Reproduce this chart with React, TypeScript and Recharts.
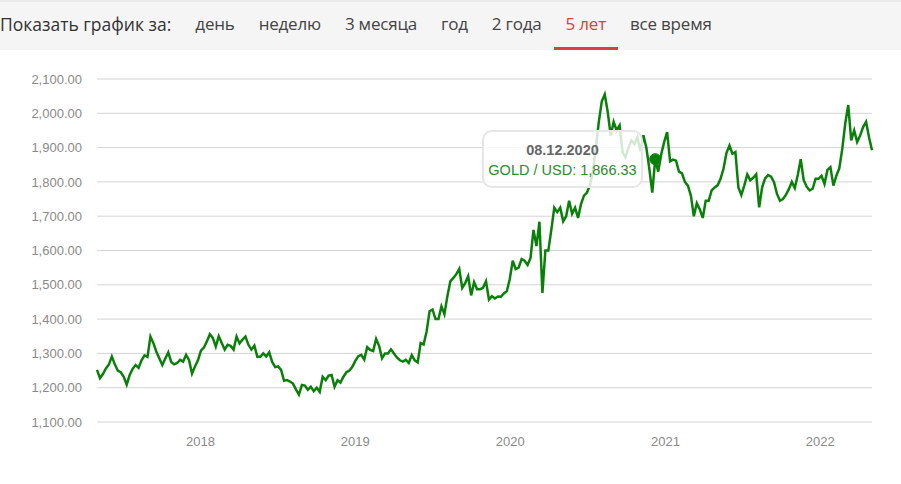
import { CartesianGrid, Line, LineChart, Tooltip, XAxis, YAxis } from 'recharts'

// weekly gold closes, first point is Tuesday 02.05.2017
const startDate = '2017-05-02'

const prices2017 = [
  1252, 1228, 1240, 1256, 1268, 1291, 1268, 1250, 1245, 1232, 1209, 1237, 1255, 1266, 1258, 1280, 1294, 1290,
  1349, 1330, 1305, 1285, 1266, 1285, 1303, 1275, 1268, 1272, 1281, 1276, 1296, 1280, 1241, 1262, 1280
]
const prices2018 = [
  1308, 1317, 1335, 1356, 1345, 1320, 1350, 1330, 1311, 1325, 1322, 1311, 1349, 1329, 1340, 1349, 1325, 1311,
  1323, 1290, 1290, 1300, 1291, 1303, 1275, 1260, 1262, 1252, 1220, 1222, 1218, 1212, 1195, 1180, 1208, 1206,
  1194, 1203, 1190, 1200, 1188, 1232, 1222, 1235, 1237, 1203, 1222, 1215, 1232, 1245, 1250, 1261
]
const prices2019 = [
  1278, 1292, 1296, 1282, 1318, 1310, 1307, 1342, 1322, 1286, 1300, 1300, 1312, 1300, 1288, 1280, 1276, 1281,
  1272, 1295, 1280, 1274, 1330, 1326, 1364, 1423, 1428, 1400, 1400, 1437, 1414, 1467, 1510, 1520, 1531, 1546,
  1491, 1505, 1525, 1469, 1508, 1487, 1487, 1491, 1510, 1457, 1467, 1460, 1466, 1465, 1475, 1481, 1516
]
const prices2020 = [
  1570, 1546, 1550, 1575, 1570, 1558, 1578, 1660, 1613, 1684, 1476, 1600, 1600, 1660, 1725, 1712, 1725, 1685,
  1700, 1745, 1707, 1725, 1695, 1735, 1760, 1769, 1790, 1830, 1900, 1975, 2035, 2055, 2004, 1935, 1975, 1950,
  1965, 1887, 1872, 1900, 1921, 1910, 1930, 1890, 1936, 1900, 1839, 1769, 1866.33, 1830, 1880, 1916
]
const prices2021 = [
  1945, 1860, 1865, 1862, 1830, 1825, 1800, 1789, 1760, 1700, 1738, 1720, 1695, 1745, 1745, 1775, 1784, 1790,
  1809, 1839, 1885, 1906, 1882, 1887, 1784, 1762, 1790, 1822, 1805, 1812, 1822, 1726, 1784, 1810, 1820, 1815,
  1799, 1765, 1745, 1750, 1762, 1779, 1800, 1782, 1820, 1866, 1805, 1786, 1775, 1780, 1809, 1809
]
const prices2022 = [1818, 1794, 1835, 1843, 1789, 1818, 1840, 1897, 1971, 2024, 1921, 1950, 1916, 1935, 1960, 1975, 1930, 1892]

const yTicks = [1100, 1200, 1300, 1400, 1500, 1600, 1700, 1800, 1900, 2000, 2100]
const yearTicks = [2018, 2019, 2020, 2021, 2022]
const periods = ['день', 'неделю', '3 месяца', 'год', '2 года', '5 лет', 'все время']
const activePeriod = '5 лет'
const tooltipIndex = 188

const WEEK = 7 * 24 * 3600 * 1000
const t0 = Date.parse(startDate + 'T00:00:00Z')
const chartData = [...prices2017, ...prices2018, ...prices2019, ...prices2020, ...prices2021, ...prices2022].map((price, i) => ({
  t: t0 + i * WEEK,
  price
}))

const fmtNum = (v: number) =>
  v.toLocaleString('en-US', { minimumFractionDigits: 2, maximumFractionDigits: 2 })

const fmtDate = (t: number) => {
  const d = new Date(t)
  const p = (n: number) => String(n).padStart(2, '0')
  return `${p(d.getUTCDate())}.${p(d.getUTCMonth() + 1)}.${d.getUTCFullYear()}`
}

function TooltipBox({ active, payload }: any) {
  if (!active || !payload || !payload.length) return null
  const point = payload[0].payload
  return (
    <div
      style={{
        width: 161,
        height: 58,
        boxSizing: 'border-box',
        background: 'rgba(255,255,255,0.82)',
        border: '2px solid #e6e6e6',
        borderRadius: 10,
        fontFamily: '"Liberation Sans", Arial, sans-serif',
        fontSize: 14.5,
        textAlign: 'center',
        paddingTop: 8,
        lineHeight: '20px'
      }}
    >
      <div style={{ color: '#666', fontWeight: 'bold' }}>{fmtDate(point.t)}</div>
      <div style={{ color: '#2d8a2d' }}>GOLD / USD: {fmtNum(point.price)}</div>
    </div>
  )
}

export default function App() {
  return (
    <div style={{ position: 'absolute', left: 0, top: 0, width: 901, height: 484, background: '#fff' }}>
      <div
        style={{
          height: 50,
          background: '#f5f5f5',
          borderTop: '2px solid #e9e9e9',
          boxSizing: 'border-box',
          display: 'flex',
          alignItems: 'stretch',
          fontFamily: '"Open Sans", sans-serif',
          fontSize: 17,
          color: '#333'
        }}
      >
        <div style={{ display: 'flex', alignItems: 'center', marginRight: 12, paddingBottom: 5, fontSize: 17.5 }}>
          Показать график за:
        </div>
        {periods.map(p => (
          <div
            key={p}
            style={{
              display: 'flex',
              alignItems: 'center',
              padding: '0 12px 2px',
              color: p === activePeriod ? '#d9413b' : '#444',
              borderBottom: p === activePeriod ? '3px solid #d9413b' : '3px solid transparent',
              letterSpacing: -0.2
            }}
          >
            {p}
          </div>
        ))}
      </div>
      <LineChart
        width={901}
        height={434}
        data={chartData}
        margin={{ top: 29, right: 29, left: 0, bottom: 0 }}
      >
        <CartesianGrid vertical={false} stroke="#d4d4d4" />
        <XAxis
          dataKey="t"
          type="number"
          domain={['dataMin', 'dataMax']}
          ticks={yearTicks.map(y => Date.UTC(y, 0, 1))}
          tickFormatter={(v: number) => String(new Date(v).getUTCFullYear())}
          axisLine={false}
          tickLine={false}
          tickSize={0}
          tickMargin={15}
          height={62}
          tick={{ fill: '#8a8a8a', fontSize: 13, fontFamily: '"Liberation Sans", Arial, sans-serif' }}
        />
        <YAxis
          domain={[1100, 2100]}
          ticks={yTicks}
          tickFormatter={fmtNum}
          axisLine={false}
          tickLine={false}
          tickSize={0}
          tickMargin={15}
          width={97}
          tick={{ fill: '#8a8a8a', fontSize: 13, fontFamily: '"Liberation Sans", Arial, sans-serif' }}
        />
        <Tooltip
          defaultIndex={tooltipIndex}
          content={<TooltipBox />}
          cursor={false}
          position={{ x: 482, y: 80 }}
          isAnimationActive={false}
          wrapperStyle={{ transition: 'none' }}
        />
        <Line
          type="linear"
          dataKey="price"
          stroke="#0a800a"
          strokeWidth={2.5}
          dot={false}
          activeDot={{ r: 5.5, fill: '#0a800a', stroke: '#0a800a', strokeWidth: 1 }}
          isAnimationActive={false}
        />
      </LineChart>
    </div>
  )
}
